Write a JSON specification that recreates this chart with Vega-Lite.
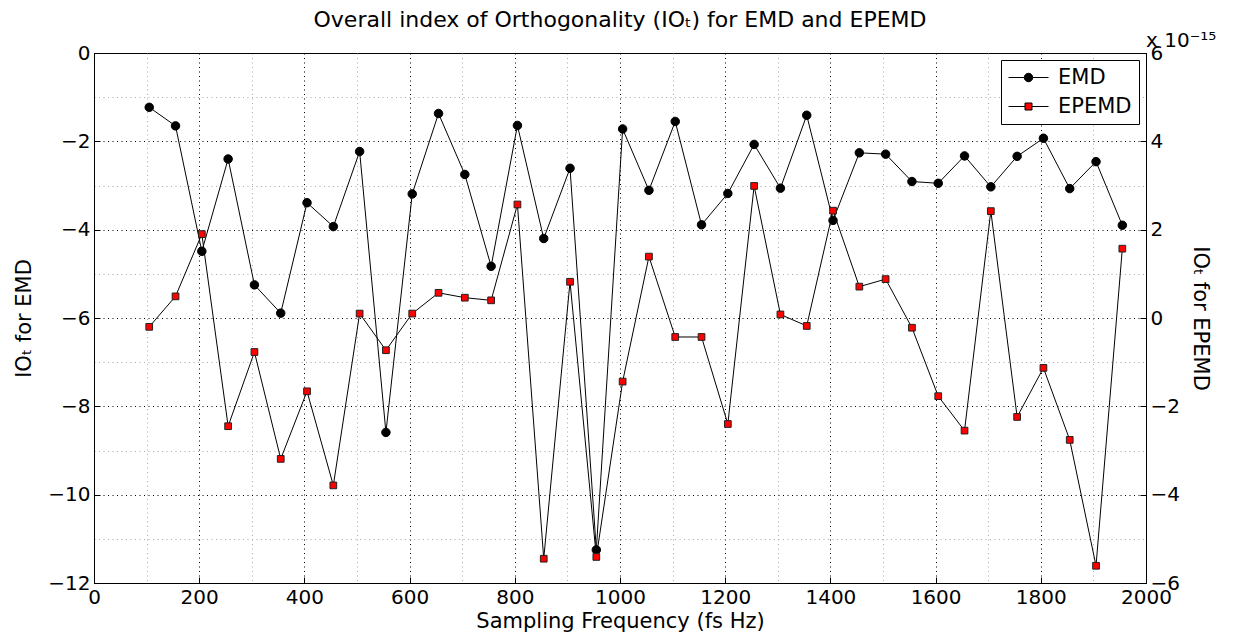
{
  "$schema": "https://vega.github.io/schema/vega-lite/v6.json",
  "width": 1052,
  "height": 530,
  "autosize": {"type": "none"},
  "padding": {"left": 94, "top": 53, "right": 88, "bottom": 58},
  "background": "white",
  "title": {"text": "Overall index of Orthogonality (IOₜ) for EMD and EPEMD", "font": "DejaVu Sans", "fontSize": 22, "fontWeight": "normal", "color": "black", "anchor": "middle", "offset": -1},
  "data": {"values": [
    {"fs": 105, "emd": -1.23, "epemd": -0.20e-15},
    {"fs": 155, "emd": -1.65, "epemd": 0.49e-15},
    {"fs": 205, "emd": -4.49, "epemd": 1.90e-15},
    {"fs": 255, "emd": -2.40, "epemd": -2.45e-15},
    {"fs": 305, "emd": -5.25, "epemd": -0.77e-15},
    {"fs": 355, "emd": -5.89, "epemd": -3.19e-15},
    {"fs": 405, "emd": -3.39, "epemd": -1.66e-15},
    {"fs": 455, "emd": -3.93, "epemd": -3.79e-15},
    {"fs": 505, "emd": -2.23, "epemd": 0.10e-15},
    {"fs": 555, "emd": -8.59, "epemd": -0.73e-15},
    {"fs": 605, "emd": -3.19, "epemd": 0.10e-15},
    {"fs": 655, "emd": -1.37, "epemd": 0.57e-15},
    {"fs": 705, "emd": -2.75, "epemd": 0.46e-15},
    {"fs": 755, "emd": -4.83, "epemd": 0.40e-15},
    {"fs": 805, "emd": -1.64, "epemd": 2.57e-15},
    {"fs": 855, "emd": -4.20, "epemd": -5.45e-15},
    {"fs": 905, "emd": -2.61, "epemd": 0.82e-15},
    {"fs": 955, "emd": -11.25, "epemd": -5.41e-15},
    {"fs": 1005, "emd": -1.72, "epemd": -1.44e-15},
    {"fs": 1055, "emd": -3.11, "epemd": 1.39e-15},
    {"fs": 1105, "emd": -1.55, "epemd": -0.43e-15},
    {"fs": 1155, "emd": -3.89, "epemd": -0.43e-15},
    {"fs": 1205, "emd": -3.18, "epemd": -2.40e-15},
    {"fs": 1255, "emd": -2.07, "epemd": 2.99e-15},
    {"fs": 1305, "emd": -3.06, "epemd": 0.08e-15},
    {"fs": 1355, "emd": -1.41, "epemd": -0.18e-15},
    {"fs": 1405, "emd": -3.79, "epemd": 2.43e-15},
    {"fs": 1455, "emd": -2.26, "epemd": 0.71e-15},
    {"fs": 1505, "emd": -2.29, "epemd": 0.88e-15},
    {"fs": 1555, "emd": -2.91, "epemd": -0.22e-15},
    {"fs": 1605, "emd": -2.95, "epemd": -1.77e-15},
    {"fs": 1655, "emd": -2.33, "epemd": -2.55e-15},
    {"fs": 1705, "emd": -3.03, "epemd": 2.42e-15},
    {"fs": 1755, "emd": -2.34, "epemd": -2.24e-15},
    {"fs": 1805, "emd": -1.93, "epemd": -1.13e-15},
    {"fs": 1855, "emd": -3.07, "epemd": -2.76e-15},
    {"fs": 1905, "emd": -2.46, "epemd": -5.61e-15},
    {"fs": 1955, "emd": -3.90, "epemd": 1.57e-15}
  ]},
  "encoding": {
    "x": {
      "field": "fs", "type": "quantitative",
      "scale": {"domain": [0, 2000], "nice": false, "zero": false},
      "axis": {
        "title": "Sampling Frequency (fs Hz)",
        "values": [0, 100, 200, 300, 400, 500, 600, 700, 800, 900, 1000, 1100, 1200, 1300, 1400, 1500, 1600, 1700, 1800, 1900, 2000],
        "format": "d",
        "labelExpr": "datum.value % 200 === 0 ? datum.label : ''",
        "grid": true,
        "gridColor": {"condition": {"test": "datum.value % 200 === 0", "value": "#000000"}, "value": "#aaaaaa"},
        "gridDash": [1, 3.5],
        "gridWidth": 1,
        "gridOpacity": 1,
        "tickSize": -6,
        "tickColor": "black",
        "tickOpacity": {"condition": {"test": "datum.value % 200 === 0", "value": 1}, "value": 0},
        "labelFlush": false,
        "labelOverlap": false,
        "labelPadding": 10,
        "titlePadding": 3
      }
    }
  },
  "layer": [
    {
      "encoding": {
        "y": {
          "field": "emd", "type": "quantitative",
          "scale": {"domain": [-12, 0], "nice": false, "zero": false},
          "axis": {
            "title": "IOₜ for EMD",
            "values": [-12, -11, -10, -9, -8, -7, -6, -5, -4, -3, -2, -1, 0],
            "labelExpr": "datum.value % 2 === 0 ? datum.label : ''",
            "grid": true,
            "gridColor": {"condition": {"test": "datum.value % 2 === 0", "value": "#000000"}, "value": "#aaaaaa"},
            "gridDash": [1, 3.5],
            "gridWidth": 1,
            "gridOpacity": 1,
            "tickSize": -6,
            "tickColor": "black",
            "tickOpacity": {"condition": {"test": "datum.value % 2 === 0", "value": 1}, "value": 0},
            "labelFlush": false,
            "labelOverlap": false,
            "labelPadding": 10,
            "titlePadding": 13
          }
        }
      },
      "layer": [
        {"mark": {"type": "line", "color": "black", "strokeWidth": 1}},
        {"mark": {"type": "point", "shape": "circle", "filled": true, "size": 72, "fill": "#000000", "stroke": "black", "strokeWidth": 1, "opacity": 1}},
        {
          "data": {"values": [{"series": "EMD"}, {"series": "EPEMD"}]},
          "mark": {"type": "point", "filled": true, "stroke": "black", "strokeWidth": 1, "opacity": 1},
          "encoding": {
            "color": {
              "field": "series", "type": "nominal",
              "scale": {"domain": ["EMD", "EPEMD"], "range": ["#000000", "#ff0000"]},
              "legend": {
                "title": null,
                "orient": "top-right",
                "offset": 7,
                "padding": 7,
                "strokeColor": "black",
                "fillColor": "white",
                "cornerRadius": 0,
                "labelFont": "DejaVu Sans",
                "labelFontSize": 21,
                "labelColor": "black",
                "symbolSize": 100,
                "symbolOffset": 10,
                "labelOffset": 19,
                "rowPadding": 7,
                "symbolStrokeColor": "black",
                "symbolStrokeWidth": 1
              }
            },
            "shape": {
              "field": "series", "type": "nominal",
              "scale": {"domain": ["EMD", "EPEMD"], "range": ["M-4,0H-0.85M0.85,0H4M0.85,0A0.85,0.85,0,1,1,-0.85,0A0.85,0.85,0,1,1,0.85,0Z", "M-4,0H-0.7M0.7,0H4M-0.7,-0.7H0.7V0.7H-0.7Z"]},
              "legend": {
                "title": null,
                "orient": "top-right",
                "offset": 7,
                "padding": 7,
                "strokeColor": "black",
                "fillColor": "white",
                "cornerRadius": 0,
                "labelFont": "DejaVu Sans",
                "labelFontSize": 21,
                "labelColor": "black",
                "symbolSize": 100,
                "symbolOffset": 10,
                "labelOffset": 19,
                "rowPadding": 7,
                "symbolStrokeColor": "black",
                "symbolStrokeWidth": 1
              }
            }
          }
        }
      ]
    },
    {
      "encoding": {
        "y": {
          "field": "epemd", "type": "quantitative",
          "scale": {"domain": [-6e-15, 6e-15], "nice": false, "zero": false},
          "axis": {
            "orient": "right",
            "title": "IOₜ for EPEMD",
            "values": [-6e-15, -4e-15, -2e-15, 0, 2e-15, 4e-15, 6e-15],
            "labelExpr": "format(round(datum.value * 1e15), 'd')",
            "grid": false,
            "tickSize": -6,
            "tickColor": "black",
            "labelFlush": false,
            "labelOverlap": false,
            "labelPadding": 10,
            "titlePadding": 10
          }
        }
      },
      "layer": [
        {"mark": {"type": "line", "color": "black", "strokeWidth": 1}},
        {"mark": {"type": "point", "shape": "square", "filled": true, "size": 45, "fill": "#ff0000", "stroke": "#222222", "strokeWidth": 1, "opacity": 1}},
        {
          "data": {"values": [{"fs": 2000, "epemd": 6e-15, "note": "x 10⁻¹⁵"}]},
          "mark": {"type": "text", "align": "left", "baseline": "alphabetic", "dy": -6, "font": "DejaVu Sans", "fontSize": 20, "color": "black", "clip": false},
          "encoding": {
            "text": {"field": "note"}
          }
        }
      ]
    }
  ],
  "resolve": {"scale": {"y": "independent"}},
  "config": {
    "font": "DejaVu Sans",
    "view": {"stroke": "black", "strokeWidth": 1},
    "axis": {
      "labelFont": "DejaVu Sans",
      "labelFontSize": 20,
      "labelColor": "black",
      "titleFont": "DejaVu Sans",
      "titleFontSize": 21,
      "titleFontWeight": "normal",
      "titleColor": "black",
      "domainColor": "black",
      "domainWidth": 1
    }
  }
}
